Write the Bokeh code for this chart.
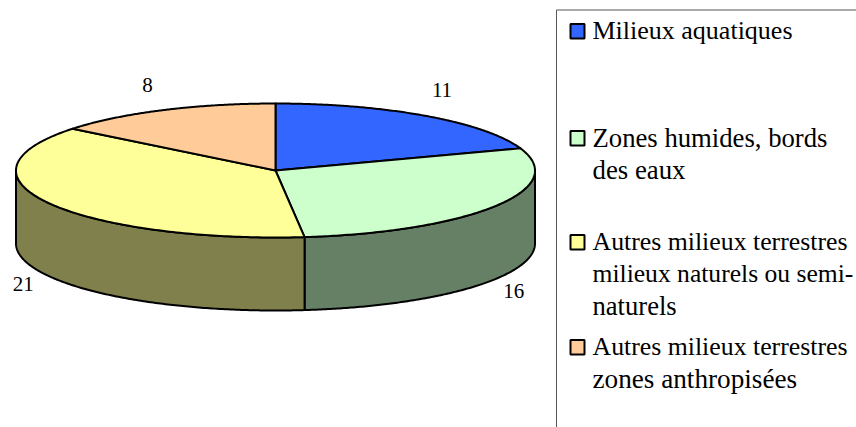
import numpy as np
from bokeh.plotting import figure
from bokeh.models import Range1d
from bokeh.core.properties import value
from bokeh.embed import file_html
from bokeh.resources import INLINE

categories = ["Milieux aquatiques", "Zones humides, bords des eaux",
              "Autres milieux terrestres milieux naturels ou semi-naturels",
              "Autres milieux terrestres zones anthropisées"]
values = [11, 16, 21, 8]
top_colors = ["#3366FF", "#CCFFCC", "#FFFF99", "#FFCC99"]
wall_colors = ["#334C80", "#668066", "#80804D", "#80664D"]
legend_lines = [["Milieux aquatiques"],
                ["Zones humides, bords", "des eaux"],
                ["Autres milieux terrestres", "milieux naturels ou semi-", "naturels"],
                ["Autres milieux terrestres", "zones anthropisées"]]

# layout (pixels of the page)
W, H = 856, 427
CX, CY, RX, RY, DEPTH = 275.0, 170.0, 259.5, 67.0, 73.0
LABEL_RX, LABEL_RY = 286.0, 90.0
LABEL_DX = [1, -4, -2, -4]
LABEL_DY = [-7, 0, -3, -4]
LEG_X0, LEG_Y0 = 556.0, 9.5
SW_X0, SW_X1, SW_H = 570.0, 584.0, 14.5
TXT_X = 592.0
LEG_BASE = [38.0, 145.0, 249.0, 354.0]
TXT_DY = -8.0
LINE_STEP = 32.0
LEG_SIZES = [["26px"], ["26.7px", "26.8px"], ["25.8px", "25.6px", "26.6px"], ["25.8px", "27.2px"]]
FONT = value("Liberation Serif")

p = figure(width=W, height=H, output_backend="svg", toolbar_location=None,
           x_range=Range1d(0, W), y_range=Range1d(H, 0), min_border=0)
p.axis.visible = False
p.grid.visible = False
p.outline_line_color = None


def arc(a0, a1, dy=0.0, n=160):
    t = np.radians(np.linspace(a0, a1, n))
    return CX + RX * np.sin(t), CY - RY * np.cos(t) + dy


edges = np.concatenate([[0], np.cumsum(values)]) / np.sum(values) * 360.0

# side walls: only the front half (90..270 degrees clockwise from the top)
for i in range(len(values)):
    a0, a1 = max(edges[i], 90.0), min(edges[i + 1], 270.0)
    if a1 <= a0:
        continue
    xt, yt = arc(a0, a1)
    xb, yb = arc(a1, a0, DEPTH)
    p.patch(np.concatenate([xt, xb]), np.concatenate([yt, yb]),
            fill_color=wall_colors[i], line_color="black", line_width=2,
            line_join="round")

# top slices
for i in range(len(values)):
    xa, ya = arc(edges[i], edges[i + 1])
    p.patch(np.concatenate([[CX], xa]), np.concatenate([[CY], ya]),
            fill_color=top_colors[i], line_color="black", line_width=2,
            line_join="round")

# value labels
mids = (edges[:-1] + edges[1:]) / 2
lx = CX + LABEL_RX * np.sin(np.radians(mids)) + np.array(LABEL_DX)
ly = CY - LABEL_RY * np.cos(np.radians(mids)) + np.where(np.cos(np.radians(mids)) < 0, DEPTH, 0) + np.array(LABEL_DY)
p.text(lx, ly, text=[str(v) for v in values], text_font=FONT, text_font_size="21px",
       text_color="black", text_align="center", text_baseline="middle")

# legend frame
p.line([W, LEG_X0, LEG_X0], [LEG_Y0, LEG_Y0, H], line_color="#555555", line_width=1)

# legend swatches and texts
for i, lines in enumerate(legend_lines):
    base = LEG_BASE[i]
    p.quad(left=[SW_X0], right=[SW_X1], top=[base - SW_H], bottom=[base],
           fill_color=top_colors[i], line_color="black", line_width=2)
    for k, line in enumerate(lines):
        p.text([TXT_X], [base + k * LINE_STEP + TXT_DY], text=[line], text_font=FONT,
               text_font_size=LEG_SIZES[i][k], text_color="black",
               text_align="left", text_baseline="alphabetic")

open("out.html", "w").write(file_html(p, INLINE))
